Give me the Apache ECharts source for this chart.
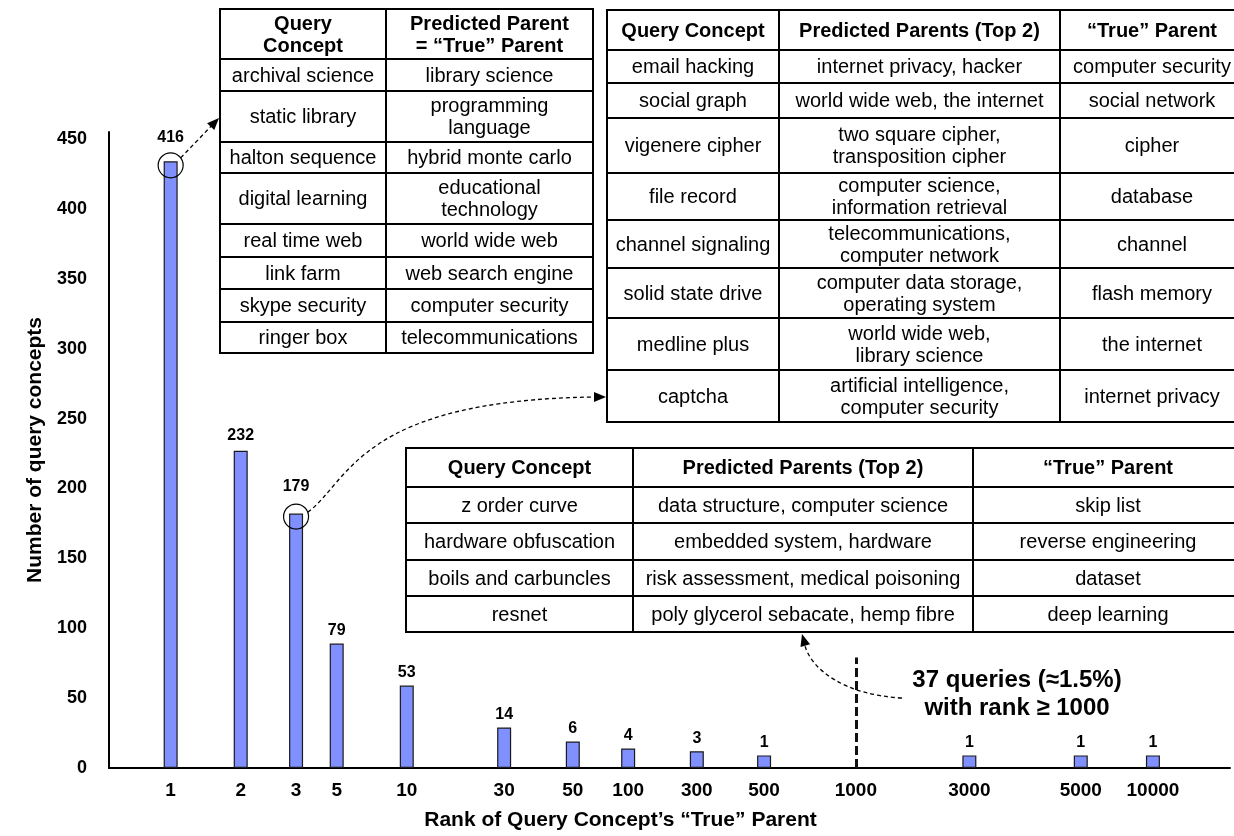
<!DOCTYPE html>
<html>
<head>
<meta charset="utf-8">
<script src="https://cdn.jsdelivr.net/npm/echarts@6/dist/echarts.min.js"></script>
<style>
html,body{margin:0;padding:0;background:#fff;}
#chart{width:1234px;height:836px;}
</style>
</head>
<body>
<div id="chart"></div>
<script>
// ---------------- data ----------------
const rankLabels = ['1','2','3','5','10','30','50','100','300','500','1000','3000','5000','10000'];
// slot of each rank tick on the (broken, non-uniform) rank axis
const rankSlots  = [8.8, 18.8, 26.7, 32.5, 42.5, 56.4, 66.2, 74.1, 83.9, 93.5, 106.6, 122.8, 138.7, 149.0];
const barRanks   = ['1','2','3','5','10','30','50','100','300','500','3000','5000','10000'];
const queryCounts = [416, 232, 179, 79, 53, 14, 6, 4, 3, 1, 1, 1, 1];   // printed counts
const barHeights  = [434, 227, 182, 89, 59, 29, 19, 14, 12, 9, 9, 9, 9]; // drawn bar heights
const yTicks = [0, 50, 100, 150, 200, 250, 300, 350, 400, 450];
const thresholdRank = '1000';
const thresholdHeight = 79;
const annotationText = '37 queries (≈1.5%)\nwith rank ≥ 1000';
const xAxisName = 'Rank of Query Concept’s “True” Parent';
const yAxisName = 'Number of query concepts';

const table1Header = ['Query\nConcept', 'Predicted Parent\n= “True” Parent'];
const table1Rows = [
  ['archival science', 'library science'],
  ['static library', 'programming\nlanguage'],
  ['halton sequence', 'hybrid monte carlo'],
  ['digital learning', 'educational\ntechnology'],
  ['real time web', 'world wide web'],
  ['link farm', 'web search engine'],
  ['skype security', 'computer security'],
  ['ringer box', 'telecommunications']
];
const table2Header = ['Query Concept', 'Predicted Parents (Top 2)', '“True” Parent'];
const table2Rows = [
  ['email hacking', 'internet privacy, hacker', 'computer security'],
  ['social graph', 'world wide web, the internet', 'social network'],
  ['vigenere cipher', 'two square cipher,\ntransposition cipher', 'cipher'],
  ['file record', 'computer science,\ninformation retrieval', 'database'],
  ['channel signaling', 'telecommunications,\ncomputer network', 'channel'],
  ['solid state drive', 'computer data storage,\noperating system', 'flash memory'],
  ['medline plus', 'world wide web,\nlibrary science', 'the internet'],
  ['captcha', 'artificial intelligence,\ncomputer security', 'internet privacy']
];
const table3Header = ['Query Concept', 'Predicted Parents (Top 2)', '“True” Parent'];
const table3Rows = [
  ['z order curve', 'data structure, computer science', 'skip list'],
  ['hardware obfuscation', 'embedded system, hardware', 'reverse engineering'],
  ['boils and carbuncles', 'risk assessment, medical poisoning', 'dataset'],
  ['resnet', 'poly glycerol sebacate, hemp fibre', 'deep learning']
];

// ---------------- layout (pixels) ----------------
const FONT = '"Liberation Sans", Arial, Helvetica, sans-serif';
const layout = {
  t1: { cols: [220, 386, 593], rows: [9, 59, 91, 142, 173, 224, 257, 289, 322, 353] },
  t2: { cols: [607, 779, 1060, 1244], rows: [10, 50, 83, 118, 173, 220, 268, 318, 370, 422] },
  t3: { cols: [406, 633, 973, 1243], rows: [448, 487, 523, 560, 596, 632] }
};

const slotOf = r => rankSlots[rankLabels.indexOf(r)];
const labelBySlot = {};
rankSlots.forEach((s, i) => { labelBySlot[s.toFixed(1)] = rankLabels[i]; });
const labelGap = { '1': 16, '2': 7, '3': 19 };

const chart = echarts.init(document.getElementById('chart'));

const option = {
  backgroundColor: '#ffffff',
  animation: false,
  textStyle: { fontFamily: FONT },
  grid: { left: 109, right: 4, top: 132, bottom: 68, containLabel: false },
  xAxis: {
    type: 'value', min: 0, max: 160,
    axisLine: { show: true, onZero: false, lineStyle: { color: '#000', width: 2 } },
    axisTick: { show: false },
    splitLine: { show: false },
    axisLabel: {
      customValues: rankSlots,
      formatter: v => labelBySlot[Number(v).toFixed(1)] || '',
      fontSize: 19, fontWeight: 'bold', color: '#000', margin: 13, fontFamily: FONT
    },
    name: xAxisName, nameLocation: 'middle', nameGap: 42,
    nameTextStyle: { fontSize: 21, fontWeight: 'bold', color: '#000', fontFamily: FONT, padding: [0, 98, 0, 0] }
  },
  yAxis: {
    type: 'value', min: 0, max: 455, interval: 50,
    axisLine: { show: true, lineStyle: { color: '#000', width: 2 } },
    axisTick: { show: false },
    splitLine: { show: false },
    axisLabel: {
      customValues: yTicks,
      fontSize: 18, fontWeight: 'bold', color: '#000', margin: 22, fontFamily: FONT
    },
    name: yAxisName, nameLocation: 'middle', nameGap: 61,
    nameTextStyle: { fontSize: 21, fontWeight: 'bold', color: '#000', fontFamily: FONT }
  },
  series: [{
    type: 'bar',
    barWidth: 14,
    itemStyle: { color: '#8090FF', borderColor: '#1a1a1a', borderWidth: 1.2 },
    label: {
      show: true, position: 'top', distance: 5,
      fontSize: 16, fontWeight: 'bold', color: '#000', fontFamily: FONT,
      formatter: p => String(queryCounts[p.dataIndex])
    },
    data: barRanks.map((r, i) => {
      const item = { value: [slotOf(r), barHeights[i]] };
      if (labelGap[r] !== undefined) item.label = { distance: labelGap[r] };
      return item;
    }),
    markLine: {
      silent: true, symbol: 'none', label: { show: false },
      lineStyle: { color: '#111', width: 3, type: [9, 4] },
      data: [[{ coord: [slotOf(thresholdRank), 0] }, { coord: [slotOf(thresholdRank), thresholdHeight] }]]
    }
  }]
};
chart.setOption(option);

// ---------------- tables & annotations ----------------
function buildTable(header, rows, lay) {
  const els = [];
  const all = [header].concat(rows);
  const cols = lay.cols, rs = lay.rows;
  for (let r = 0; r < all.length; r++) {
    for (let c = 0; c < cols.length - 1; c++) {
      const x0 = cols[c], x1 = cols[c + 1], y0 = rs[r], y1 = rs[r + 1];
      els.push({ type: 'rect', z: 10, shape: { x: x0, y: y0, width: x1 - x0, height: y1 - y0 },
        style: { fill: '#fff', stroke: '#000', lineWidth: 2 } });
      els.push({ type: 'text', z: 11, x: (x0 + x1) / 2, y: (y0 + y1) / 2 + 1,
        style: { text: all[r][c], align: 'center', verticalAlign: 'middle',
          fontSize: 20, fontWeight: r === 0 ? 'bold' : 'normal', fontFamily: FONT,
          lineHeight: 22, fill: '#000' } });
    }
  }
  return els;
}

function arrowHead(tip, from, len, half) {
  const dx = tip[0] - from[0], dy = tip[1] - from[1];
  const L = Math.hypot(dx, dy) || 1;
  const ux = dx / L, uy = dy / L, nx = -uy, ny = ux;
  const bx = tip[0] - ux * len, by = tip[1] - uy * len;
  return { type: 'polygon', z: 12, shape: { points: [tip, [bx + nx * half, by + ny * half], [bx - nx * half, by - ny * half]] },
    style: { fill: '#000' } };
}

const dash = { stroke: '#000', lineWidth: 1.3, lineDash: [4, 3], fill: null };
const els = [];
els.push(...buildTable(table1Header, table1Rows, layout.t1));
els.push(...buildTable(table2Header, table2Rows, layout.t2));
els.push(...buildTable(table3Header, table3Rows, layout.t3));

// circles around the bars of rank 1 and rank 3
const p1 = chart.convertToPixel({ seriesIndex: 0 }, [slotOf('1'), barHeights[0]]);
const p3 = chart.convertToPixel({ seriesIndex: 0 }, [slotOf('3'), barHeights[2]]);
const c1 = [p1[0], p1[1] + 4], c3 = [p3[0], p3[1] + 3], R = 12.5;
els.push({ type: 'circle', z: 12, shape: { cx: c1[0], cy: c1[1], r: R }, style: { fill: null, stroke: '#000', lineWidth: 1.2 } });
els.push({ type: 'circle', z: 12, shape: { cx: c3[0], cy: c3[1], r: R }, style: { fill: null, stroke: '#000', lineWidth: 1.2 } });

// arrow 1: circle -> table 1
const tip1 = [219, 118];
const s1 = [c1[0] + R * 0.8, c1[1] - R * 0.6];
const b1 = (() => { const dx = tip1[0] - s1[0], dy = tip1[1] - s1[1], L = Math.hypot(dx, dy); return [tip1[0] - dx / L * 10, tip1[1] - dy / L * 10]; })();
els.push({ type: 'line', z: 12, shape: { x1: s1[0], y1: s1[1], x2: b1[0], y2: b1[1] }, style: dash });
els.push(arrowHead(tip1, s1, 12, 5));

// arrow 2: circle (rank 3) -> table 2
const s2 = [c3[0] + R * 0.94, c3[1] - R * 0.34];
const tip2 = [606, 397];
els.push({ type: 'bezierCurve', z: 12,
  shape: { x1: s2[0], y1: s2[1], cpx1: 350, cpy1: 480, cpx2: 360, cpy2: 400, x2: 595, y2: 397 }, style: dash });
els.push(arrowHead(tip2, [590, 397], 12, 5));

// arrow 3: annotation -> table 3
els.push({ type: 'bezierCurve', z: 12,
  shape: { x1: 902, y1: 698, cpx1: 845, cpy1: 695, cpx2: 812, cpy2: 670, x2: 805, y2: 646 }, style: dash });
els.push(arrowHead([802, 634], [806, 648], 12, 5));

// annotation text
els.push({ type: 'text', z: 12, x: 1017, y: 694,
  style: { text: annotationText, align: 'center', verticalAlign: 'middle',
    fontSize: 24, fontWeight: 'bold', fontFamily: FONT, lineHeight: 28, fill: '#000' } });

chart.setOption({ graphic: { elements: els } });
</script>
</body>
</html>
